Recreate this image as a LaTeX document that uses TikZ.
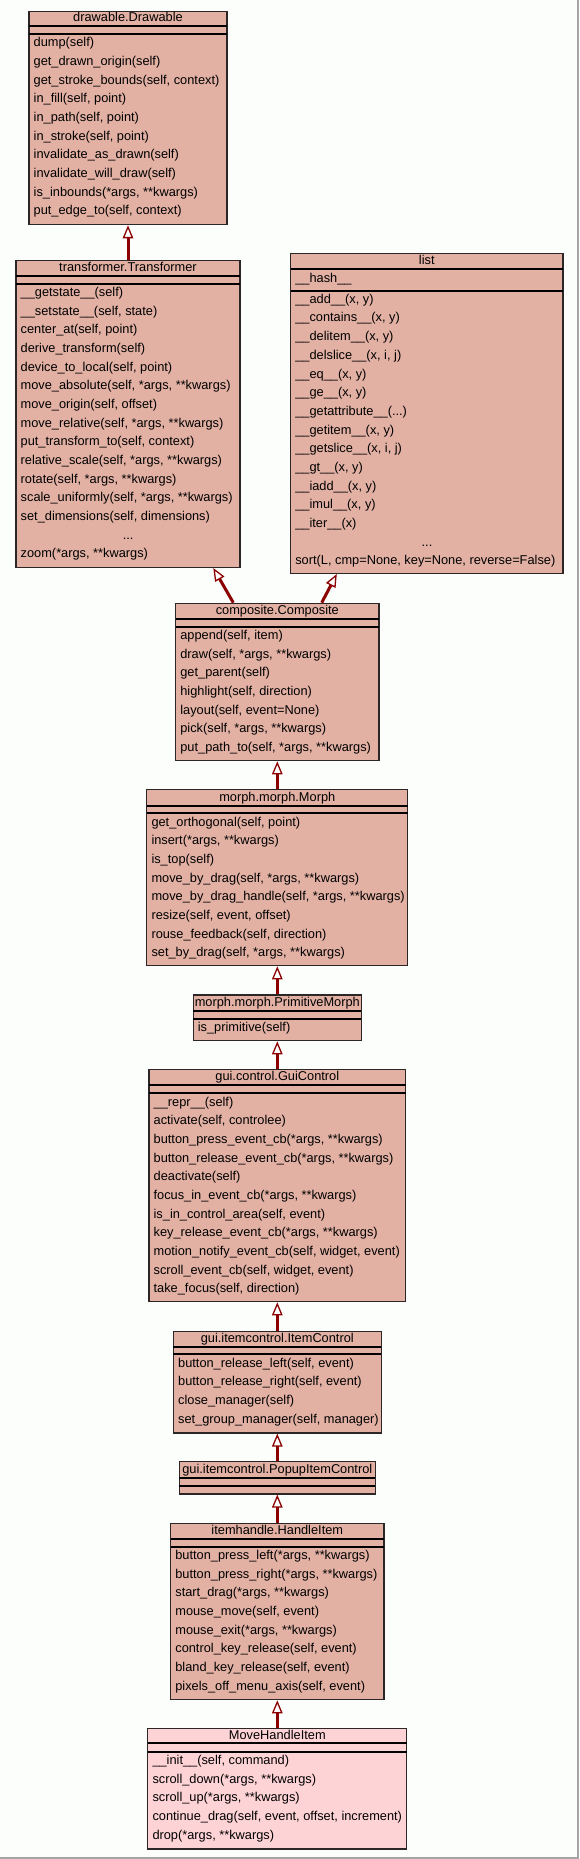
\documentclass[tikz,border=0pt]{standalone}
\usepackage{fontspec}
\setmainfont{Liberation Sans}
\usetikzlibrary{arrows.meta}

\definecolor{classfill}{RGB}{226,177,164}
\definecolor{leaffill}{RGB}{254,211,214}
\definecolor{arrowred}{RGB}{139,0,0}
\definecolor{classline}{RGB}{45,38,38}
\definecolor{paper}{RGB}{252,254,252}
\definecolor{framegrey}{RGB}{165,165,165}

\begin{document}
\begin{tikzpicture}[x=1pt, y=-1pt,
        classbox/.style={draw=classline, line width=1.3pt, anchor=north, inner sep=0pt},
        sepline/.style={line width=1.7pt, black},
        clsname/.style={anchor=base, inner sep=0pt, font=\fontsize{12.8}{15}\selectfont},
        ops/.style={anchor=base west, inner sep=0pt, align=left, font=\fontsize{12.8}{18.67}\selectfont},
        isa/.style={draw=arrowred, line width=3pt, -{Triangle[length=13pt, width=10.5pt, fill=white, line width'=1.3pt]}}]
        \useasboundingbox (0,0) rectangle (579,1859);
        \fill[paper] (0,0) rectangle (579,1859);
        \draw[framegrey, line width=1.5pt] (0,1858.2) -- (577.8,1858.2) -- (577.8,0);

        % class boxes: name / centre x / top / width / height / title rule / attribute rule / fill / title
        \foreach \nm/\cx/\ty/\bw/\bh/\ya/\yb/\fc/\ttl in {
                drawable/128/11/198/213/26/34/classfill/drawable.Drawable,
                transformer/128/260/224/306.7/275.7/283.7/classfill/transformer.Transformer,
                list/426.8/253/272.4/319.7/269.3/290.7/classfill/list,
                composite/277.3/602.7/203.3/157.3/619/626.7/classfill/composite.Composite,
                morph/277.3/789/261/176/805.7/813.3/classfill/morph.morph.Morph,
                primitive/277.3/994.3/168.3/45.7/1010.7/1019/classfill/morph.morph.PrimitiveMorph,
                guicontrol/277.3/1069/256.7/232/1085/1093.3/classfill/gui.control.GuiControl,
                itemcontrol/277.3/1331/207.7/101.3/1346.7/1354.3/classfill/gui.itemcontrol.ItemControl,
                popup/277.3/1461/195.7/32.3/1477.7/1485.7/classfill/gui.itemcontrol.PopupItemControl,
                handle/277.3/1522.7/213.3/176.3/1539/1546.7/classfill/itemhandle.HandleItem,
                movehandle/277.3/1727.7/259/120.6/1743.3/1751.7/leaffill/MoveHandleItem}
        {
            \node[classbox, fill=\fc, minimum width=\bw pt, minimum height=\bh pt] (\nm) at (\cx,\ty) {};
            \draw[sepline] (\cx-\bw/2,\ya) -- (\cx+\bw/2,\ya);
            \draw[sepline] (\cx-\bw/2,\yb) -- (\cx+\bw/2,\yb);
            \node[clsname] (\nm-name) at (\cx,\ya-4.3) {\ttl};
        }

        % method lists, placed by the baseline of their last line
        \node[ops] (drawable-ops) at (33.5,214.7) {dump(self)\\get\_drawn\_origin(self)\\get\_stroke\_bounds(self, context)\\in\_fill(self, point)\\in\_path(self, point)\\in\_stroke(self, point)\\invalidate\_as\_drawn(self)\\invalidate\_will\_draw(self)\\is\_inbounds(*args, **kwargs)\\put\_edge\_to(self, context)};

        \node[ops] (transformer-ops) at (20.5,557.8) {\_\_getstate\_\_(self)\\\_\_setstate\_\_(self, state)\\center\_at(self, point)\\derive\_transform(self)\\device\_to\_local(self, point)\\move\_absolute(self, *args, **kwargs)\\move\_origin(self, offset)\\move\_relative(self, *args, **kwargs)\\put\_transform\_to(self, context)\\relative\_scale(self, *args, **kwargs)\\rotate(self, *args, **kwargs)\\scale\_uniformly(self, *args, **kwargs)\\set\_dimensions(self, dimensions)\\\makebox[215pt]{...}\\zoom(*args, **kwargs)};

        \node[ops] (list-attr) at (295.1,282.6) {\_\_hash\_\_};
        \node[ops] (list-ops) at (295.1,564.7) {\_\_add\_\_(x, y)\\\_\_contains\_\_(x, y)\\\_\_delitem\_\_(x, y)\\\_\_delslice\_\_(x, i, j)\\\_\_eq\_\_(x, y)\\\_\_ge\_\_(x, y)\\\_\_getattribute\_\_(...)\\\_\_getitem\_\_(x, y)\\\_\_getslice\_\_(x, i, j)\\\_\_gt\_\_(x, y)\\\_\_iadd\_\_(x, y)\\\_\_imul\_\_(x, y)\\\_\_iter\_\_(x)\\\makebox[263.4pt]{...}\\sort(L, cmp=None, key=None, reverse=False)};

        \node[ops] (composite-ops) at (180.15,751.4) {append(self, item)\\draw(self, *args, **kwargs)\\get\_parent(self)\\highlight(self, direction)\\layout(self, event=None)\\pick(self, *args, **kwargs)\\put\_path\_to(self, *args, **kwargs)};

        \node[ops] (morph-ops) at (151.3,956.7) {get\_orthogonal(self, point)\\insert(*args, **kwargs)\\is\_top(self)\\move\_by\_drag(self, *args, **kwargs)\\move\_by\_drag\_handle(self, *args, **kwargs)\\resize(self, event, offset)\\rouse\_feedback(self, direction)\\set\_by\_drag(self, *args, **kwargs)};

        \node[ops] (primitive-ops) at (197.65,1031.7) {is\_primitive(self)};

        \node[ops] (guicontrol-ops) at (153.45,1292.7) {\_\_repr\_\_(self)\\activate(self, controlee)\\button\_press\_event\_cb(*args, **kwargs)\\button\_release\_event\_cb(*args, **kwargs)\\deactivate(self)\\focus\_in\_event\_cb(*args, **kwargs)\\is\_in\_control\_area(self, event)\\key\_release\_event\_cb(*args, **kwargs)\\motion\_notify\_event\_cb(self, widget, event)\\scroll\_event\_cb(self, widget, event)\\take\_focus(self, direction)};

        \node[ops] (itemcontrol-ops) at (177.95,1423) {button\_release\_left(self, event)\\button\_release\_right(self, event)\\close\_manager(self)\\set\_group\_manager(self, manager)};

        \node[ops] (handle-ops) at (175.15,1690.1) {button\_press\_left(*args, **kwargs)\\button\_press\_right(*args, **kwargs)\\start\_drag(*args, **kwargs)\\mouse\_move(self, event)\\mouse\_exit(*args, **kwargs)\\control\_key\_release(self, event)\\bland\_key\_release(self, event)\\pixels\_off\_menu\_axis(self, event)};

        \node[ops] (movehandle-ops) at (152.3,1839.1) {\_\_init\_\_(self, command)\\scroll\_down(*args, **kwargs)\\scroll\_up(*args, **kwargs)\\continue\_drag(self, event, offset, increment)\\drop(*args, **kwargs)};

        % inheritance
        \foreach \sub/\super in {transformer/drawable, morph/composite, primitive/morph, guicontrol/primitive, itemcontrol/guicontrol, popup/itemcontrol, handle/popup, movehandle/handle}
            \draw[isa] (\sub.north) -- (\super.south);
        \draw[isa] ([xshift=-44pt]composite.north) -- ([xshift=85.3pt]transformer.south);
        \draw[isa] ([xshift=44.4pt]composite.north) -- ([xshift=-90pt]list.south);
    \end{tikzpicture}
\end{document}
